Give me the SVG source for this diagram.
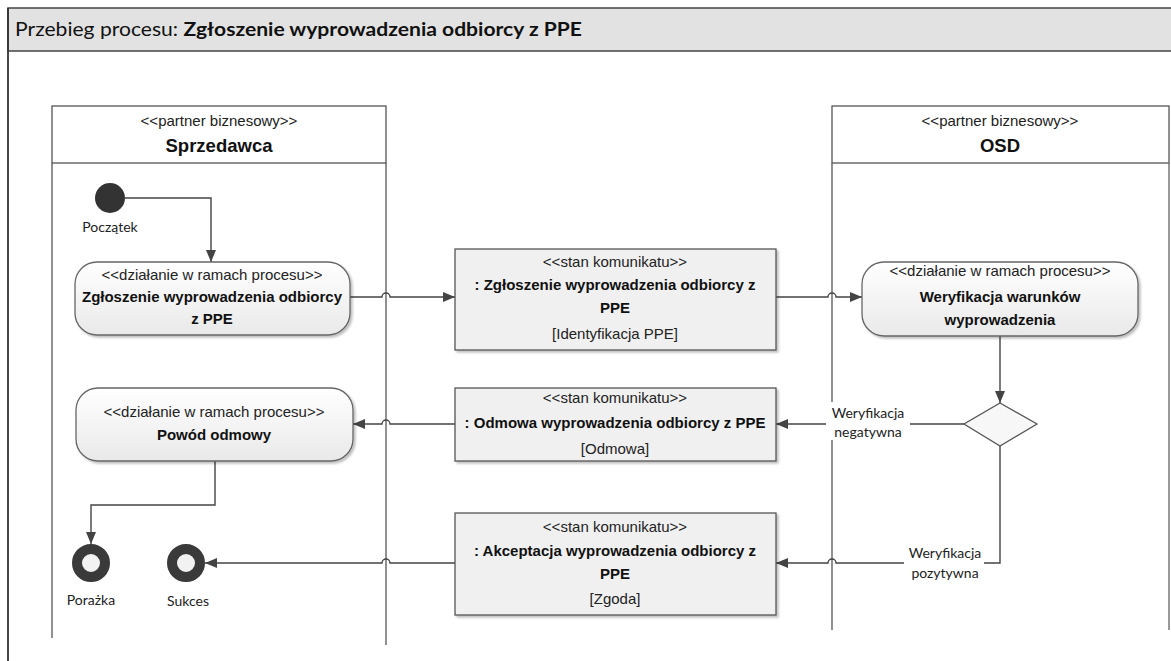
<svg xmlns="http://www.w3.org/2000/svg" width="1171" height="661" viewBox="0 0 1171 661">
<defs>
<linearGradient id="actGrad" x1="0" y1="0" x2="0" y2="1">
<stop offset="0" stop-color="#ffffff"/>
<stop offset="1" stop-color="#e9e9e9"/>
</linearGradient>
<filter id="shadow" x="-5%" y="-5%" width="115%" height="120%">
<feDropShadow dx="2" dy="2" stdDeviation="1.2" flood-color="#000" flood-opacity="0.25"/>
</filter>
<marker id="arrow" viewBox="0 0 12 10" refX="12" refY="5" markerWidth="12" markerHeight="10" markerUnits="userSpaceOnUse" orient="auto">
<path d="M0,0 L12,5 L0,10 Z" fill="#444"/>
</marker>
</defs>
<style>
.lane{fill:#fff;stroke:#555;stroke-width:1.3}
.act{fill:url(#actGrad);stroke:#666;stroke-width:1.3;filter:url(#shadow)}
.msg{fill:#f0f0f0;stroke:#555;stroke-width:1.3;filter:url(#shadow)}
.conn{fill:none;stroke:#444;stroke-width:1.4}
.st{font-family:"Liberation Sans",Arial,sans-serif;font-size:15px;fill:#222;text-anchor:middle}
.bd{font-family:"Liberation Sans",Arial,sans-serif;font-size:15px;font-weight:bold;fill:#111;text-anchor:middle}
.hd{font-family:"Liberation Sans",Arial,sans-serif;font-size:18.5px;font-weight:bold;fill:#111;text-anchor:middle}
.lbl{font-family:Lato,"Liberation Sans",sans-serif;font-size:14px;fill:#222;text-anchor:middle}
</style>
<rect x="0" y="0" width="1171" height="661" fill="#fff"/>
<g id="frame">
<rect x="8" y="8" width="1170" height="43" fill="#e2e2e2" stroke="#444" stroke-width="1.5"/>
<line x1="8" y1="8" x2="8" y2="661" stroke="#333" stroke-width="1.8"/>
<text x="15" y="36" font-family="Lato,'Liberation Sans',sans-serif" font-size="19" fill="#111" textLength="567" lengthAdjust="spacingAndGlyphs">Przebieg procesu: <tspan font-weight="bold">Zgłoszenie wyprowadzenia odbiorcy z PPE</tspan></text>
</g>
<g id="lane-sprzedawca">
<rect class="lane" x="52" y="106" width="334" height="57"/>
<line x1="52" y1="163" x2="52" y2="638" stroke="#555" stroke-width="1.3"/>
<line x1="386" y1="163" x2="386" y2="645" stroke="#555" stroke-width="1.3"/>
<text class="st" x="219" y="126">&lt;&lt;partner biznesowy&gt;&gt;</text>
<text class="hd" x="219" y="152">Sprzedawca</text>
</g>
<g id="lane-osd">
<rect class="lane" x="832" y="106" width="337" height="57"/>
<line x1="832" y1="163" x2="832" y2="630" stroke="#555" stroke-width="1.3"/>
<line x1="1169" y1="163" x2="1169" y2="630" stroke="#777" stroke-width="1.5"/>
<text class="st" x="1000" y="126">&lt;&lt;partner biznesowy&gt;&gt;</text>
<text class="hd" x="1000" y="152">OSD</text>
</g>
<g id="connectors">
<path class="conn" d="M125,198 L211,198 L211,262" marker-end="url(#arrow)"/>
<path class="conn" d="M350,297 L382,297 A4,4 0 0 1 390,297 L455,297" marker-end="url(#arrow)"/>
<path class="conn" d="M776,297 L828,297 A4,4 0 0 1 836,297 L862,297" marker-end="url(#arrow)"/>
<path class="conn" d="M1000,336 L1000,403" marker-end="url(#arrow)"/>
<path class="conn" d="M965,424 L776,424" marker-end="url(#arrow)"/>
<path class="conn" d="M455,424 L390,424 A4,4 0 0 0 382,424 L353,424" marker-end="url(#arrow)"/>
<path class="conn" d="M215,461 L215,505 L91,505 L91,544" marker-end="url(#arrow)"/>
<path class="conn" d="M1000,446 L1000,563 L836,563 A4,4 0 0 0 828,563 L776,563" marker-end="url(#arrow)"/>
<path class="conn" d="M455,563 L390,563 A4,4 0 0 0 382,563 L205,563" marker-end="url(#arrow)"/>
<rect x="826" y="402" width="84" height="38" fill="#fff"/>
<text class="lbl" x="868" y="418">Weryfikacja</text>
<text class="lbl" x="868" y="437">negatywna</text>
<rect x="904" y="542" width="80" height="40" fill="#fff"/>
<text class="lbl" x="945" y="558">Weryfikacja</text>
<text class="lbl" x="945" y="578">pozytywna</text>
</g>
<g id="start">
<circle cx="110" cy="198" r="15" fill="#333"/>
<text class="lbl" x="110" y="232">Początek</text>
</g>
<g id="action-zgloszenie">
<rect class="act" x="75" y="262" width="275" height="73" rx="22" ry="22"/>
<text class="st" x="212" y="280">&lt;&lt;działanie w ramach procesu&gt;&gt;</text>
<text class="bd" x="212" y="302">Zgłoszenie wyprowadzenia odbiorcy</text>
<text class="bd" x="212" y="324">z PPE</text>
</g>
<g id="msg-zgloszenie">
<rect class="msg" x="455" y="249" width="321" height="101"/>
<text class="st" x="615" y="267">&lt;&lt;stan komunikatu&gt;&gt;</text>
<text class="bd" x="615" y="290">: Zgłoszenie wyprowadzenia odbiorcy z</text>
<text class="bd" x="615" y="313">PPE</text>
<text class="st" x="615" y="339">[Identyfikacja PPE]</text>
</g>
<g id="action-weryfikacja">
<rect class="act" x="862" y="262" width="276" height="74" rx="22" ry="22"/>
<text class="st" x="1000" y="276">&lt;&lt;działanie w ramach procesu&gt;&gt;</text>
<text class="bd" x="1000" y="302">Weryfikacja warunków</text>
<text class="bd" x="1000" y="325">wyprowadzenia</text>
</g>
<g id="decision">
<polygon points="1000,403 1037,424 1000,446 964,424" fill="#f7f7f7" stroke="#555" stroke-width="1.3"/>
</g>
<g id="msg-odmowa">
<rect class="msg" x="455" y="388" width="321" height="73"/>
<text class="st" x="615" y="403">&lt;&lt;stan komunikatu&gt;&gt;</text>
<text class="bd" x="615" y="428">: Odmowa wyprowadzenia odbiorcy z PPE</text>
<text class="st" x="615" y="454">[Odmowa]</text>
</g>
<g id="action-powod">
<rect class="act" x="76" y="388" width="277" height="73" rx="22" ry="22"/>
<text class="st" x="214" y="417">&lt;&lt;działanie w ramach procesu&gt;&gt;</text>
<text class="bd" x="214" y="440">Powód odmowy</text>
</g>
<g id="msg-akceptacja">
<rect class="msg" x="455" y="513" width="321" height="102"/>
<text class="st" x="615" y="532">&lt;&lt;stan komunikatu&gt;&gt;</text>
<text class="bd" x="615" y="556">: Akceptacja wyprowadzenia odbiorcy z</text>
<text class="bd" x="615" y="579">PPE</text>
<text class="st" x="615" y="604">[Zgoda]</text>
</g>
<g id="end-porazka">
<circle cx="91" cy="563" r="14" fill="#f2f2f2" stroke="#3a3a3a" stroke-width="10"/>
<text class="lbl" x="91" y="605">Porażka</text>
</g>
<g id="end-sukces">
<circle cx="186" cy="563" r="14" fill="#f2f2f2" stroke="#3a3a3a" stroke-width="10"/>
<text class="lbl" x="188" y="606">Sukces</text>
</g>
</svg>
